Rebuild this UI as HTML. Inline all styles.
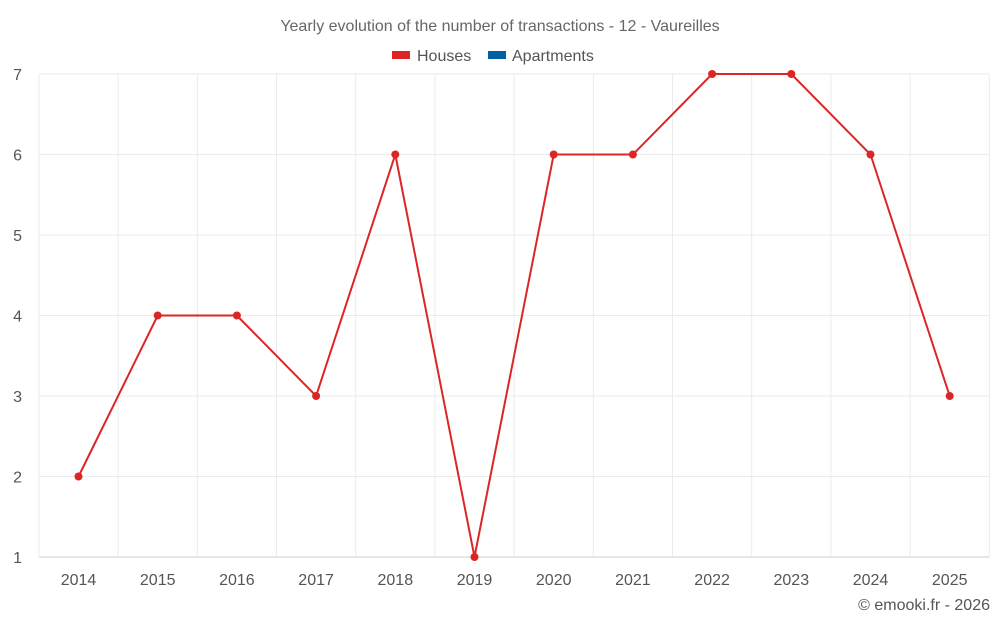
<!DOCTYPE html>
<html><head><meta charset="utf-8">
<style>
body{margin:0;background:#fff;font-family:"Liberation Sans",sans-serif;}
svg text{font-family:"Liberation Sans",sans-serif;}
</style></head>
<body>
<svg id="chart" width="1000" height="625" viewBox="0 0 1000 625">
  <text x="500" y="31" text-anchor="middle" font-size="16" fill="#666">Yearly evolution of the number of transactions - 12 - Vaureilles</text>
  <g>
    <g>
      <rect x="392" y="51" width="18" height="8" fill="#dc2626"></rect>
      <text x="417" y="61" font-size="16" fill="#555">Houses</text>
    </g>
    <g>
      <rect x="488" y="51" width="18" height="8" fill="#0060a0"></rect>
      <text x="512" y="61" font-size="16" fill="#555">Apartments</text>
    </g>
  </g>
  <g id="grid"></g>
  <g id="axes"></g>
  <g id="series"></g>
  <text x="990" y="610" text-anchor="end" font-size="16" fill="#555">© emooki.fr - 2026</text>
</svg>
<script>
const years = ["2014","2015","2016","2017","2018","2019","2020","2021","2022","2023","2024","2025"];
const houses = [2,4,4,3,6,1,6,6,7,7,6,3];
const yTicks = [1,2,3,4,5,6,7];

const SVGNS = "http://www.w3.org/2000/svg";
const plotLeft = 38.9, plotRight = 989.3, plotTop = 74, plotBottom = 557;
const yMin = 1, yMax = 7;
const band = (plotRight-plotLeft)/years.length;
function xPos(i){return plotLeft + band*(i+0.5);}
function yPos(v){return plotBottom - (v-yMin)/(yMax-yMin)*(plotBottom-plotTop);}
function mk(tag, attrs, parent){const e=document.createElementNS(SVGNS,tag);for(const k in attrs)e.setAttribute(k,attrs[k]);parent.appendChild(e);return e;}

const gridG=document.getElementById('grid'), axesG=document.getElementById('axes'), seriesG=document.getElementById('series');
yTicks.forEach(t=>{
  const y=yPos(t);
  const l=mk('line',{x1:plotLeft,x2:plotRight,y1:y,y2:y,stroke:t===yMin?'#ccc':'#ebebeb','stroke-width':1},gridG);
  
  
  const tx=mk('text',{x:22,y:y+6,'text-anchor':'end','font-size':16,fill:'#555'},axesG);
  tx.textContent=t;
  
  
});
for(let i=0;i<=years.length;i++){
  const x=plotLeft+band*i;
  const l=mk('line',{x1:x,x2:x,y1:plotTop,y2:plotBottom,stroke:'#ebebeb','stroke-width':1},gridG);
  
  
}
years.forEach((yr,i)=>{
  const tx=mk('text',{x:xPos(i),y:585,'text-anchor':'middle','font-size':16,fill:'#555'},axesG);
  tx.textContent=yr;
  
  
});
const pts=houses.map((v,i)=>xPos(i)+','+yPos(v)).join(' ');
const line=mk('polyline',{points:pts,fill:'none',stroke:'#dc2626','stroke-width':2},seriesG);


houses.forEach((v,i)=>{
  const c=mk('circle',{cx:xPos(i),cy:yPos(v),r:4,fill:'#dc2626'},seriesG);
  
  
});
</script>
</body></html>
